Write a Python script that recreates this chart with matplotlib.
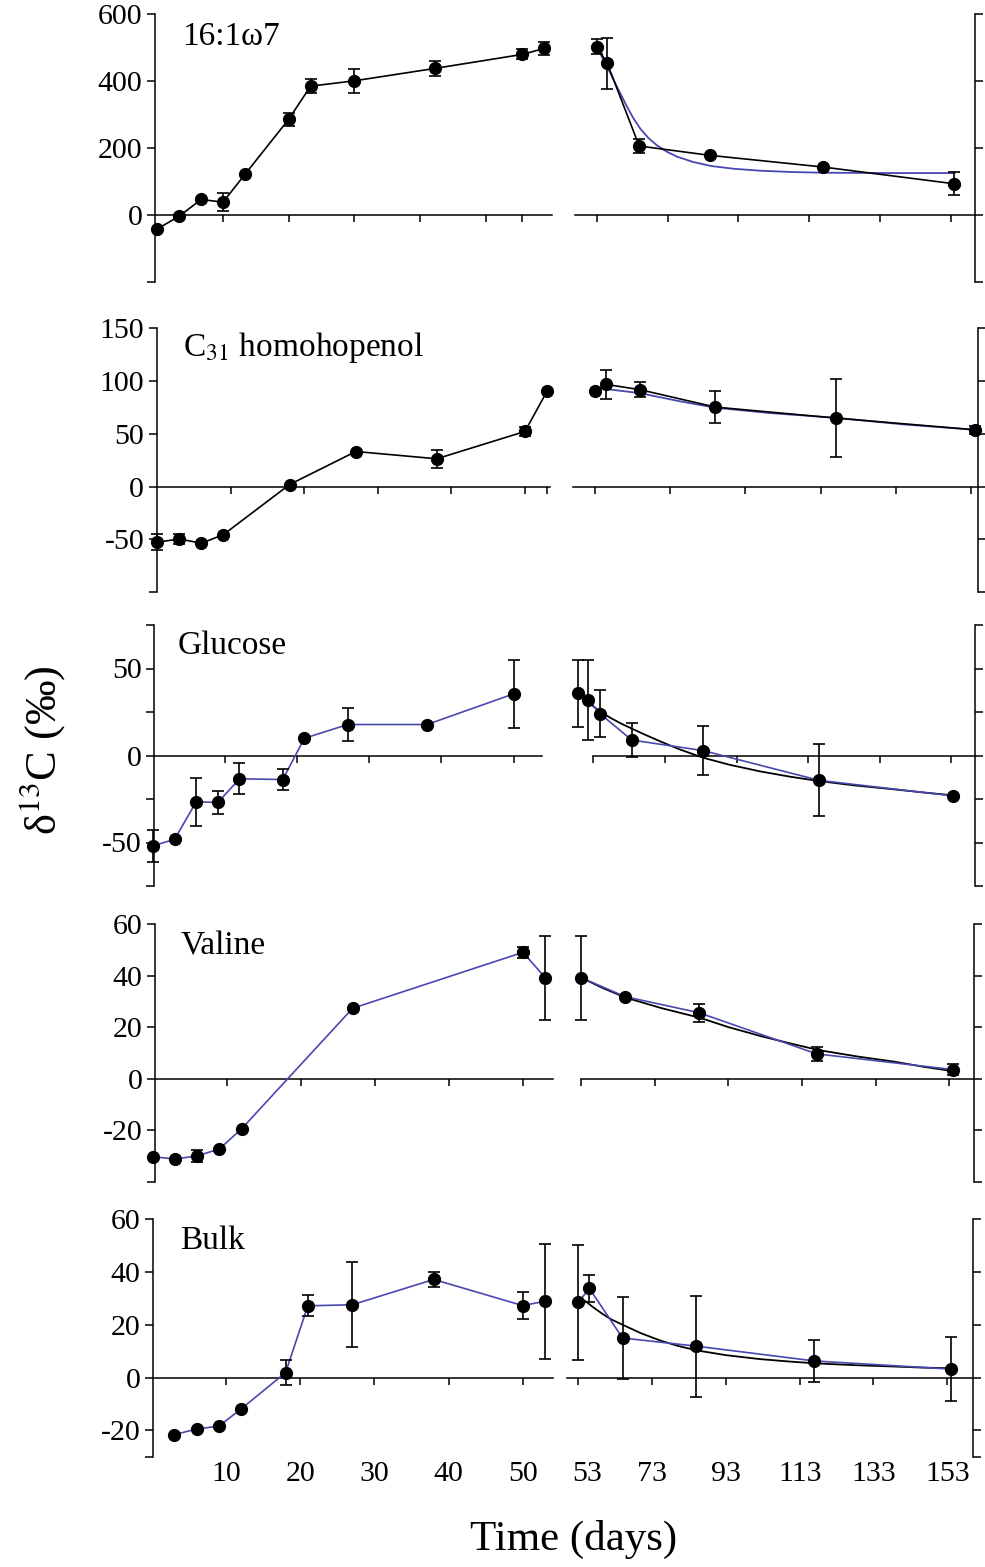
import numpy as np
import matplotlib
matplotlib.use('Agg')
import matplotlib.pyplot as plt
import matplotlib.transforms as mtransforms

plt.rcParams['font.family'] = ['Liberation Serif', 'DejaVu Serif']
plt.rcParams['mathtext.fontset'] = 'stix'

W, H = 985, 1567
BLUE = '#4848b0'

# ---------------- data ----------------
# Row 1: 16:1w7
fa_early_days = [0, 3, 6, 9, 12, 18, 21, 27, 38, 50, 53]
fa_early_vals = [-42, -4, 46, 38, 121, 286, 385, 401, 438, 480, 498]
fa_early_err = [0, 0, 0, 27, 0, 20, 20, 35, 23, 15, 20]
fa_late_days = [53, 56, 65, 85, 117, 154]
fa_late_vals = [503, 453, 206, 178, 143, 93]
fa_late_err = [23, 76, 22, 0, 0, 35]
fa_fit_days = [53.5, 54.9, 56.8, 59.1, 61.5, 63.3, 65.3, 67.6, 70, 72.8, 75.7, 80.3,
               85.4, 91.6, 99.2, 108.5, 117.1, 136.8, 154.1]
fa_fit_vals = [495, 463, 425, 375, 325, 290, 258, 230, 208, 189, 174, 158,
               146, 138, 132, 128, 126, 125, 125]

# Row 2: C31 homohopenol
hop_early_days = [0, 3, 6, 9, 18, 27, 38, 50, 53]
hop_early_vals = [-52.8, -49.7, -53.8, -45.6, 1.9, 33.2, 26.3, 52.2, 90.4]
hop_early_err = [7.4, 5, 0, 0, 0, 0, 8.6, 4.7, 0]
hop_late_days = [53, 56, 65, 85, 117, 154]
hop_late_vals = [90.4, 96.8, 91.8, 75.3, 64.9, 53.8]
hop_late_err = [0, 14, 7, 15.5, 37, 4]
hop_fit_days = [53, 65, 75, 85, 100, 117, 135, 154]
hop_fit_vals = [93.7, 88.5, 81.2, 74.7, 69.5, 65.2, 58.9, 53.8]

# Row 3: Glucose
glu_early_days = [0, 3, 6, 9, 12, 18, 21, 27, 38, 50]
glu_early_vals = [-51.9, -48.2, -26.6, -27, -13.4, -13.8, 9.9, 17.8, 17.8, 35.4]
glu_early_err = [9.2, 0, 13.7, 6.6, 9, 6.3, 0, 9.4, 0, 19.4]
glu_late_days = [48.8, 51.6, 54.9, 63.7, 83.7, 116.1, 153.4]
glu_late_vals = [35.7, 32, 24, 8.9, 2.8, -14.3, -23.2]
glu_late_err = [19.3, 23, 13.6, 9.9, 14.2, 20.7, 0]
glu_fit_days = [48.8, 51.6, 54.9, 58, 61, 63.7, 67.5, 71.6, 77, 83.7, 91, 99.5,
                108, 116.1, 126, 136.8, 145, 153.4]
glu_fit_vals = [35.7, 30.6, 25.2, 21.4, 18.1, 15.5, 11.9, 8.2, 3.6, -1.3, -5.3, -9.1,
                -12.2, -14.7, -17.2, -19.4, -21.2, -22.9]

# Row 4: Valine
val_early_days = [0, 3, 6, 9, 12, 27, 50, 53]
val_early_vals = [-30.3, -31.2, -30, -27.3, -19.5, 27.3, 49, 39.2]
val_early_err = [0, 0, 2.4, 0, 0, 0, 2, 16.3]
val_late_days = [53, 65, 85, 117, 154]
val_late_vals = [39.2, 31.8, 25.6, 9.6, 3.5]
val_late_err = [16.3, 0, 3.5, 2.7, 2.2]
val_fit_days = [53.3, 59, 65.2, 75, 85.3, 93, 101.8, 110, 117.4, 128, 138, 146, 154.4]
val_fit_vals = [39, 35.1, 31.4, 27.3, 23.6, 20.0, 16.5, 13.6, 11.1, 8.6, 6.6, 4.6, 2.8]

# Row 5: Bulk
blk_early_days = [3, 6, 9, 12, 18, 21, 27, 38, 50, 53]
blk_early_vals = [-21.6, -19.5, -18.4, -11.9, 1.9, 27.2, 27.6, 37.2, 27.3, 28.9]
blk_early_err = [0, 0, 0, 0, 4.6, 4, 16.2, 2.9, 5.1, 21.8]
blk_late_days = [53, 56, 65, 85, 117, 154]
blk_late_vals = [28.5, 33.8, 15, 11.9, 6.3, 3.2]
blk_late_err = [21.9, 5.2, 15.7, 19.2, 8, 12.1]
blk_fit_days = [54.8, 57, 59.5, 62, 65.2, 70, 75.1, 80, 85.1, 93, 102.2, 110, 117.1,
                128, 138.4, 146, 154.2]
blk_fit_vals = [29.1, 26.7, 24.2, 22.0, 19.9, 16.8, 14.1, 12.0, 10.3, 8.5, 7.0, 6.1, 5.4,
                4.7, 4.2, 3.8, 3.5]

labels = ['16:1\u03c97', 'C$_{31}$ homohopenol', 'Glucose', 'Valine', 'Bulk']
y_ticks = [[-200, 0, 200, 400, 600], [-100, -50, 0, 50, 100, 150],
           [-75, -50, -25, 0, 25, 50, 75], [-40, -20, 0, 20, 40, 60],
           [-30, -20, 0, 20, 40, 60]]
y_ticklabels = [['', '0', '200', '400', '600'], ['', '-50', '0', '50', '100', '150'],
                ['', '-50', '', '0', '', '50', ''], ['', '-20', '0', '20', '40', '60'],
                ['', '-20', '0', '20', '40', '60']]
early_xticks = [[9, 18, 27, 36, 45, 50], [10, 20, 30, 40, 50, 53],
                [10, 20, 30, 40, 50], [10, 20, 30, 40, 50], [10, 20, 30, 40, 50]]
late_xticks = [53, 73, 93, 113, 133, 153]

rows = [
    (fa_early_days, fa_early_vals, fa_early_err, fa_late_days, fa_late_vals, fa_late_err, fa_fit_days, fa_fit_vals),
    (hop_early_days, hop_early_vals, hop_early_err, hop_late_days, hop_late_vals, hop_late_err, hop_fit_days, hop_fit_vals),
    (glu_early_days, glu_early_vals, glu_early_err, glu_late_days, glu_late_vals, glu_late_err, glu_fit_days, glu_fit_vals),
    (val_early_days, val_early_vals, val_early_err, val_late_days, val_late_vals, val_late_err, val_fit_days, val_fit_vals),
    (blk_early_days, blk_early_vals, blk_early_err, blk_late_days, blk_late_vals, blk_late_err, blk_fit_days, blk_fit_vals),
]

# ---------------- layout (pixels) ----------------
row_y = [(14.3, 281.7), (328.3, 592.0), (625.0, 886.0), (924.0, 1181.7), (1219.3, 1456.7)]
left_box = [(155, 552), (156.7, 550), (154.3, 541.7), (155, 553.3), (153, 553)]
left_xlim = [(-0.32, 54.07), (-0.07, 53.4), (0.19, 53.9), (0.31, 54.1), (0.1, 54.1)]
right_box = [(575, 975), (572.7, 978.3), (567, 975), (567, 974.3), (566.7, 973.3)]
right_xlim = [(46.87, 159.86), (47.06, 154.96), (45.65, 159.6), (49.2, 159.8), (49.86, 160.05)]
right_zero_start = [None, None, 53, 53, None]
early_line_color = ['black', 'black', BLUE, BLUE, BLUE]
late_line_color = ['black', 'black', BLUE, BLUE, BLUE]
fit_color = [BLUE, BLUE, 'black', 'black', 'black']
label_pos = [(182, 45), (183, 356), (178, 654), (181, 954.3), (180, 1249.3)]

fig = plt.figure(figsize=(W / 100, H / 100), dpi=100)

LW = 1.1
TICK_FS = 21.5
MS = 8.5
XPAD = 55


def add_ax(box, ys):
    x0, x1 = box
    y0, y1 = ys
    return fig.add_axes([x0 / W, 1 - y1 / H, (x1 - x0) / W, (y1 - y0) / H])


def draw_series(ax, d, v, e, lc):
    d = np.asarray(d, float)
    v = np.asarray(v, float)
    e = np.asarray(e, float)
    ax.plot(d, v, color=lc, lw=1.2, zorder=3, clip_on=False)
    m = e > 0
    if m.any():
        ax.errorbar(d[m], v[m], yerr=e[m], fmt='none', ecolor='black', elinewidth=1.2,
                    capsize=4, capthick=1.2, zorder=4, clip_on=False)
    ax.plot(d, v, 'o', color='black', ms=MS, zorder=5, clip_on=False)


last_right = None
for i, row in enumerate(rows):
    ed, ev, ee, ld, lv, le, fd, fv = row
    last = (i == len(rows) - 1)

    # early (left) panel
    ax = add_ax(left_box[i], row_y[i])
    ax.set_xlim(*left_xlim[i])
    ax.set_ylim(y_ticks[i][0], y_ticks[i][-1])
    for s in ['top', 'right']:
        ax.spines[s].set_visible(False)
    ax.spines['bottom'].set_position(('data', 0))
    for s in ['left', 'bottom']:
        ax.spines[s].set_linewidth(LW)
    ax.set_yticks(y_ticks[i])
    ax.set_yticklabels(y_ticklabels[i])
    ax.set_xticks(early_xticks[i])
    ax.tick_params(axis='y', direction='out', length=6, width=LW, labelsize=TICK_FS, pad=3)
    ax.tick_params(axis='x', direction='out', length=5, width=LW, labelsize=TICK_FS,
                   labelbottom=last, pad=XPAD)
    ax.patch.set_alpha(0)
    draw_series(ax, ed, ev, ee, early_line_color[i])
    fig.text(label_pos[i][0] / W, 1 - label_pos[i][1] / H, labels[i], fontsize=24,
             ha='left', va='baseline')

    # late (right) panel
    ax2 = add_ax(right_box[i], row_y[i])
    ax2.set_xlim(*right_xlim[i])
    ax2.set_ylim(y_ticks[i][0], y_ticks[i][-1])
    for s in ['top', 'left']:
        ax2.spines[s].set_visible(False)
    ax2.spines['bottom'].set_position(('data', 0))
    if right_zero_start[i] is not None:
        ax2.spines['bottom'].set_bounds(right_zero_start[i], right_xlim[i][1])
    for s in ['right', 'bottom']:
        ax2.spines[s].set_linewidth(LW)
    ax2.yaxis.tick_right()
    ax2.set_yticks(y_ticks[i])
    ax2.tick_params(axis='y', direction='out', length=6, width=LW, labelright=False)
    ax2.set_xticks(late_xticks)
    ax2.tick_params(axis='x', direction='out', length=5, width=LW, labelsize=TICK_FS,
                    labelbottom=last, pad=XPAD)
    ax2.patch.set_alpha(0)
    ax2.plot(fd, fv, color=fit_color[i], lw=1.3, zorder=3, clip_on=False)
    draw_series(ax2, ld, lv, le, late_line_color[i])
    last_right = ax2

# the "53" label sits a little right of its tick in the reference
first_lbl = last_right.xaxis.get_major_ticks()[0].label1
first_lbl.set_transform(first_lbl.get_transform() +
                        mtransforms.ScaledTranslation(0.09, 0, fig.dpi_scale_trans))

fig.text(574 / W, 1 - 1550 / H, 'Time (days)', fontsize=31, ha='center', va='baseline')
fig.text(42 / W, 1 - 750 / H, '\u03b4$^{13}$C (\u2030)', fontsize=32, rotation=90,
         ha='center', va='center')

fig.savefig('out.png', dpi=100)
